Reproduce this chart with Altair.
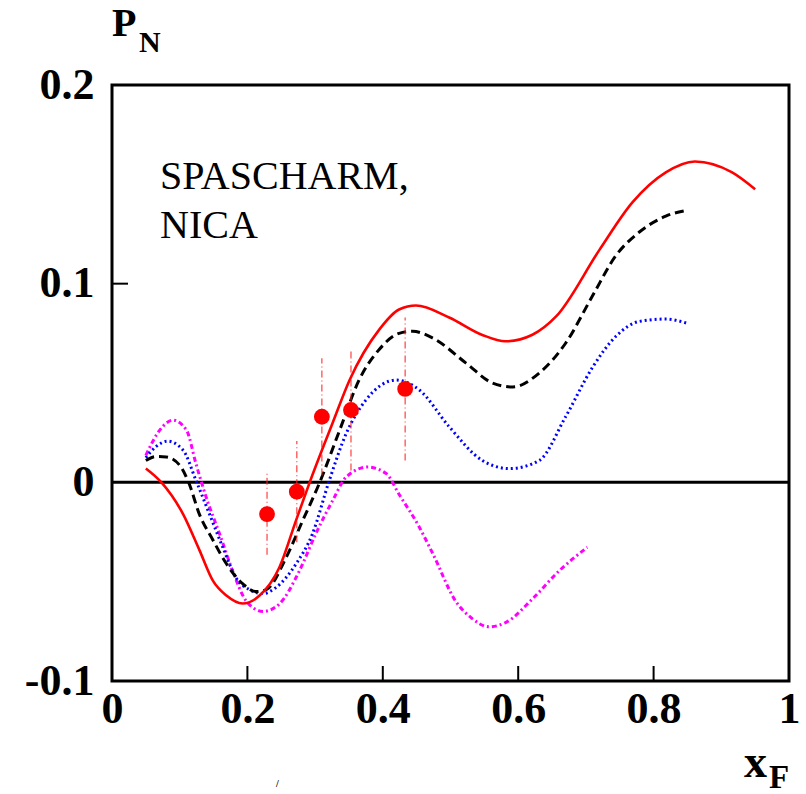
import altair as alt
import pandas as pd

# ---- data ----
red_x = [0.05, 0.073, 0.105, 0.129, 0.149, 0.169, 0.193, 0.218, 0.247, 0.272, 0.292, 0.326, 0.351,
         0.395, 0.424, 0.449, 0.498, 0.547, 0.581, 0.621, 0.656, 0.720, 0.769, 0.818, 0.861, 0.916, 0.950]
red_y = [0.007, 0.0, -0.016, -0.034, -0.0495, -0.057, -0.061, -0.057, -0.043, -0.019, 0.0, 0.030, 0.0515,
         0.077, 0.087, 0.089, 0.083, 0.0742, 0.071, 0.0743, 0.0835, 0.117, 0.141, 0.156, 0.1615, 0.156, 0.1475]

blk_x = [0.05, 0.065, 0.08, 0.10, 0.114, 0.129, 0.149, 0.169, 0.193, 0.213, 0.228, 0.257, 0.282, 0.306,
         0.336, 0.365, 0.395, 0.424, 0.444, 0.474, 0.523, 0.562, 0.592, 0.631, 0.670, 0.710, 0.744, 0.779,
         0.818, 0.85]
blk_y = [0.011, 0.013, 0.0128, 0.0086, -0.0007, -0.016, -0.029, -0.041, -0.051, -0.055, -0.054, -0.038,
         -0.019, -0.0007, 0.026, 0.0515, 0.067, 0.075, 0.076, 0.0726, 0.060, 0.050, 0.048, 0.055, 0.070,
         0.094, 0.114, 0.126, 0.134, 0.137]

blu_x = [0.05, 0.065, 0.082, 0.105, 0.124, 0.144, 0.164, 0.183, 0.203, 0.223, 0.242, 0.272, 0.296, 0.321,
         0.346, 0.375, 0.420, 0.454, 0.498, 0.547, 0.587, 0.631, 0.670, 0.710, 0.744, 0.779, 0.818, 0.85]
blu_y = [0.0124, 0.018, 0.0207, 0.0162, 0.001, -0.016, -0.033, -0.048, -0.054, -0.056, -0.053, -0.041,
         -0.026, 0.001, 0.0246, 0.0414, 0.0515, 0.0465, 0.028, 0.011, 0.0069, 0.011, 0.033, 0.058, 0.0734,
         0.081, 0.0822, 0.080]

mag_x = [0.05, 0.07, 0.090, 0.110, 0.124, 0.139, 0.159, 0.178, 0.198, 0.223, 0.247, 0.277, 0.301, 0.326,
         0.346, 0.378, 0.405, 0.424, 0.454, 0.474, 0.508, 0.530, 0.557, 0.582, 0.621, 0.661, 0.702]
mag_y = [0.0136, 0.026, 0.0313, 0.0263, 0.0094, -0.0074, -0.026, -0.0444, -0.0596, -0.065, -0.0613,
         -0.0444, -0.0259, -0.0091, 0.0027, 0.0077, 0.0044, -0.006, -0.0226, -0.036, -0.060, -0.068,
         -0.0727, -0.0705, -0.0587, -0.0444, -0.0327]

pt_x = [0.229, 0.273, 0.310, 0.353, 0.433]
pt_y = [-0.016, -0.0047, 0.033, 0.0364, 0.047]
pt_err = [0.0205, 0.0255, 0.0295, 0.0305, 0.036]

x_ticks = [0.2, 0.4, 0.6, 0.8]
y_ticks = [0.1]

W, H = 677, 596
FONT = "Liberation Serif"

xs = alt.Scale(domain=[0, 1], nice=False, zero=False)
ys = alt.Scale(domain=[-0.1, 0.2], nice=False, zero=False)

lbl_expr = "datum.value == 0 ? '0' : (datum.value == 1 ? '1' : (datum.value < 0 ? '-' : '') + format(abs(datum.value), '.1f'))"

x_axis = alt.Axis(values=[0, 0.2, 0.4, 0.6, 0.8, 1], labelExpr=lbl_expr, domain=False, ticks=False,
                  grid=False, labelFont=FONT, labelFontSize=44, labelFontWeight="bold",
                  labelColor="black", labelPadding=6, title=None, labelFlush=False)
y_axis = alt.Axis(values=[-0.1, 0, 0.1, 0.2], labelExpr=lbl_expr, domain=False, ticks=False,
                  grid=False, labelFont=FONT, labelFontSize=44, labelFontWeight="bold",
                  labelColor="black", labelPadding=18, title=None, labelFlush=False)


def curve(xv, yv, color, width, dash=None):
    df = pd.DataFrame({"x": xv, "y": yv})
    kw = dict(color=color, strokeWidth=width, interpolate="monotone")
    if dash:
        kw["strokeDash"] = dash
    return alt.Chart(df).mark_line(**kw).encode(
        x=alt.X("x:Q", scale=xs, axis=x_axis),
        y=alt.Y("y:Q", scale=ys, axis=y_axis),
    )


red = curve(red_x, red_y, "#ff0000", 2.6)
blk = curve(blk_x, blk_y, "#000000", 3, [9, 5])
blu = curve(blu_x, blu_y, "#0000ff", 3, [2, 3])
mag = curve(mag_x, mag_y, "#ff00ff", 3, [5, 3, 2, 3])

pts_df = pd.DataFrame({"x": pt_x, "y": pt_y, "e": pt_err})
pts_df["lo"] = pts_df["y"] - pts_df["e"]
pts_df["hi"] = pts_df["y"] + pts_df["e"]

err = alt.Chart(pts_df).mark_rule(color="#ff2020", strokeWidth=1.2, strokeDash=[7, 3, 1, 3], opacity=0.85).encode(
    x=alt.X("x:Q", scale=xs), y=alt.Y("lo:Q", scale=ys), y2="hi:Q")
pts = alt.Chart(pts_df).mark_circle(color="#ff0000", size=250, opacity=1).encode(
    x=alt.X("x:Q", scale=xs), y=alt.Y("y:Q", scale=ys))

zero = alt.Chart(pd.DataFrame({"y": [0.0]})).mark_rule(color="black", strokeWidth=3).encode(
    y=alt.Y("y:Q", scale=ys), x=alt.value(0), x2=alt.value(W))

frame = alt.Chart(pd.DataFrame({"k": [0]})).mark_rect(
    fillOpacity=0, stroke="black", strokeWidth=3).encode(
    x=alt.value(0), x2=alt.value(W), y=alt.value(0), y2=alt.value(H))

xt = alt.Chart(pd.DataFrame({"x": x_ticks})).mark_rule(color="black", strokeWidth=2).encode(
    x=alt.X("x:Q", scale=xs), y=alt.value(H), y2=alt.value(H - 15))
yt = alt.Chart(pd.DataFrame({"y": y_ticks})).mark_rule(color="black", strokeWidth=2).encode(
    y=alt.Y("y:Q", scale=ys), x=alt.value(0), x2=alt.value(16))


def txt(s, px, py, size, weight="normal", baseline="alphabetic"):
    return alt.Chart(pd.DataFrame({"t": [s]})).mark_text(
        font=FONT, fontSize=size, fontWeight=weight, align="left", baseline=baseline, color="black"
    ).encode(text="t:N", x=alt.value(px), y=alt.value(py))


labels = [
    txt("SPASCHARM,", 48, 104, 40),
    txt("NICA", 48, 153, 40),
    txt("P", 0, -49, 40, "bold"),
    txt("N", 27, -33, 30, "bold"),
    txt("x", 632, 692, 46, "bold"),
    txt("F", 657, 703, 33, "bold"),
    txt("/", 164, 702, 10, "bold"),
]

chart = alt.layer(zero, xt, yt, mag, blu, blk, red, err, pts, frame, *labels).properties(
    width=W, height=H,
    autosize=alt.AutoSizeParams(type="none"),
    padding={"left": 112, "top": 85, "right": 806 - 112 - W, "bottom": 794 - 85 - H},
).configure_view(stroke=None).configure(background="white")

chart.save("out.html", embed_options={"renderer": "svg", "actions": False})
